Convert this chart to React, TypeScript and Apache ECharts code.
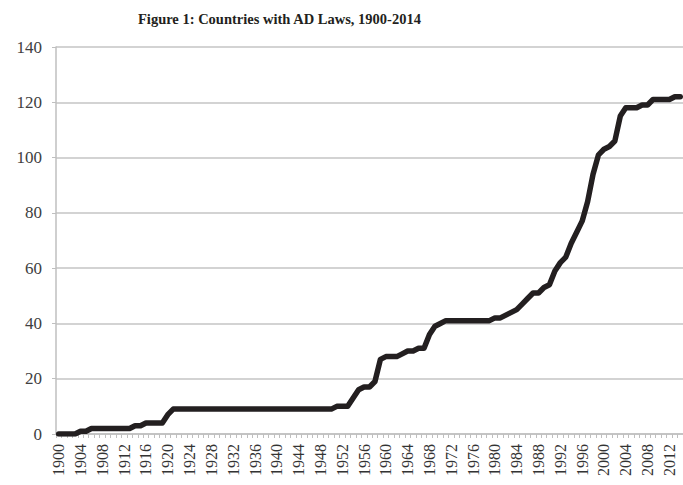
import React, { useEffect, useRef } from "react";
import * as echarts from "echarts";

const years: string[] = [];
for (let y = 1900; y <= 2014; y++) years.push(String(y));

// Countries with AD laws, 1900..2014
const countries: number[] = [
  // 1900-1909
  0, 0, 0, 0, 1, 1, 2, 2, 2, 2,
  // 1910-1919
  2, 2, 2, 2, 3, 3, 4, 4, 4, 4,
  // 1920-1929
  7, 9, 9, 9, 9, 9, 9, 9, 9, 9,
  // 1930-1939
  9, 9, 9, 9, 9, 9, 9, 9, 9, 9,
  // 1940-1949
  9, 9, 9, 9, 9, 9, 9, 9, 9, 9,
  // 1950-1959
  9, 10, 10, 10, 13, 16, 17, 17, 19, 27,
  // 1960-1969
  28, 28, 28, 29, 30, 30, 31, 31, 36, 39,
  // 1970-1979
  40, 41, 41, 41, 41, 41, 41, 41, 41, 41,
  // 1980-1989
  42, 42, 43, 44, 45, 47, 49, 51, 51, 53,
  // 1990-1999
  54, 59, 62, 64, 69, 73, 77, 84, 94, 101,
  // 2000-2009
  103, 104, 106, 115, 118, 118, 118, 119, 119, 121,
  // 2010-2014
  121, 121, 121, 122, 122,
];

const titleText = "Figure 1: Countries with AD Laws, 1900-2014";

export default function App() {
  const ref = useRef<HTMLDivElement>(null);
  useEffect(() => {
    if (!ref.current) return;
    const chart = echarts.init(ref.current, null, { renderer: "svg" });
    chart.setOption({
      animation: false,
      backgroundColor: "#ffffff",
      title: {
        text: titleText,
        left: 133,
        top: 6,
        textStyle: {
          fontFamily: "Liberation Serif",
          fontWeight: "bold",
          fontSize: 14.5,
          color: "#231f20",
        },
      },
      grid: { left: 56, top: 47, width: 631, height: 387 },
      xAxis: {
        type: "category",
        data: years,
        boundaryGap: true,
        axisLine: { show: true, lineStyle: { color: "#bfbfbf", width: 1.5 } },
        axisTick: { show: true, interval: 0, length: 4, lineStyle: { color: "#bfbfbf" } },
        axisLabel: {
          interval: 3,
          rotate: 90,
          margin: 10,
          fontFamily: "Liberation Serif",
          fontSize: 16,
          color: "#333333",
        },
        splitLine: { show: false },
      },
      yAxis: {
        type: "value",
        min: 0,
        max: 140,
        interval: 20,
        axisLine: { show: true, lineStyle: { color: "#bfbfbf", width: 1.5 } },
        axisTick: { show: true, length: 4, lineStyle: { color: "#bfbfbf" } },
        axisLabel: {
          margin: 14,
          fontFamily: "Liberation Serif",
          fontSize: 17,
          color: "#404040",
        },
        splitLine: { show: true, lineStyle: { color: "#c4c4c4", width: 1.5 } },
      },
      series: [
        {
          type: "line",
          data: countries,
          showSymbol: false,
          symbol: "none",
          lineStyle: { color: "#231f20", width: 5.5, join: "round", cap: "round" },
        },
      ],
    });
    return () => chart.dispose();
  }, []);
  return (
    <div
      ref={ref}
      style={{ position: "fixed", left: 0, top: 0, width: 683, height: 485, overflow: "hidden" }}
    />
  );
}
